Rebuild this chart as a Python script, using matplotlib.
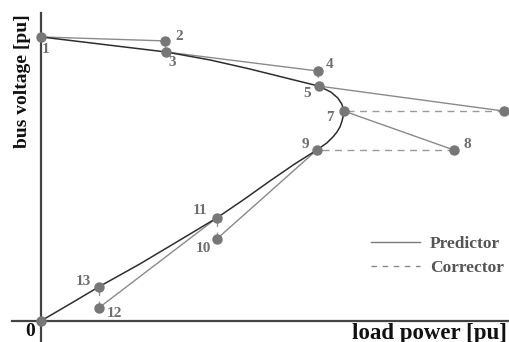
import numpy as np
import matplotlib
matplotlib.use('Agg')
import matplotlib.pyplot as plt
from matplotlib.lines import Line2D

# PV curve (load power, bus voltage)
curve_p = [0.0, 0.195, 0.413, 0.558, 0.690, 0.822, 0.917, 0.957, 0.980, 0.993, 1.0,
           0.998, 0.993, 0.987, 0.977, 0.964, 0.944, 0.911, 0.838, 0.756, 0.673,
           0.581, 0.459, 0.327, 0.191, 0.096, 0.0]
curve_v = [1.0, 0.975, 0.947, 0.919, 0.887, 0.852, 0.827, 0.806, 0.785, 0.764, 0.739,
           0.722, 0.701, 0.683, 0.665, 0.648, 0.627, 0.602, 0.553, 0.493, 0.430,
           0.363, 0.285, 0.201, 0.120, 0.060, 0.0]

# continuation steps 1..13
step_p = [0.0, 0.409, 0.413, 0.914, 0.917, 1.528, 1.0, 1.363, 0.911, 0.581, 0.581, 0.191, 0.191]
step_v = [1.0, 0.986, 0.947, 0.880, 0.827, 0.739, 0.739, 0.602, 0.602, 0.289, 0.363, 0.046, 0.120]
step_labels = ['1', '2', '3', '4', '5', '', '7', '8', '9', '10', '11', '12', '13']

# label placement (pixels from the point)
label_offsets = [(5, -13), (14, 4), (6, -11), (12, 7), (-12, -7), (0, 0), (-14, -6),
                 (13, 5), (-12, 5), (-14, -10), (-17, 7), (16, -6), (-15, 5)]

plt.rcParams['font.family'] = ['Liberation Serif', 'DejaVu Serif']
plt.rcParams['font.weight'] = 'bold'

fig = plt.figure(figsize=(5.09, 3.42), dpi=100)
ax = fig.add_axes([0, 0, 1, 1])
ax.set_xlim(-0.135, 1.545)
ax.set_ylim(-0.074, 1.130)

# axes through the origin
for side in ['top', 'right']:
    ax.spines[side].set_visible(False)
ax.spines['left'].set_position(('data', 0))
ax.spines['bottom'].set_position(('data', 0))
ax.spines['left'].set_bounds(-0.074, 1.085)
ax.spines['bottom'].set_bounds(-0.096, 1.545)
for side in ['left', 'bottom']:
    ax.spines[side].set_color('#444444')
    ax.spines[side].set_linewidth(1.6)
ax.set_xticks([])
ax.set_yticks([])

# PV curve
ax.plot(curve_p, curve_v, color='#2e2e2e', lw=1.1, zorder=2)

# predictor and corrector segments
for i in range(0, len(step_p) - 1, 2):
    ax.plot(step_p[i:i + 2], step_v[i:i + 2], color='#8a8a8a', lw=1.0, zorder=1)
    ax.plot(step_p[i + 1:i + 3], step_v[i + 1:i + 3], color='#9a9a9a', lw=1.0,
            ls=(0, (5, 4)), zorder=1)

ax.plot(step_p + [0.0], step_v + [0.0], ls='none', marker='o', ms=6.5,
        color='#777777', zorder=3)

for p, v, lab, off in zip(step_p, step_v, step_labels, label_offsets):
    if lab:
        ax.annotate(lab, (p, v), xytext=off, textcoords='offset pixels',
                    ha='center', va='center', fontsize=11, color='#6e6e6e',
                    fontweight='bold')

ax.text(30 / 509, 1 - 332 / 342, '0', transform=ax.transAxes, ha='center',
        va='center', fontsize=14, fontweight='bold', color='#111111')
ax.text(507 / 509, 1 - 333 / 342, 'load power [pu]', transform=ax.transAxes,
        ha='right', va='center', fontsize=16.5, fontweight='bold', color='#111111')
ax.text(23 / 509, 1 - 81 / 342, 'bus voltage [pu]', transform=ax.transAxes,
        ha='center', va='center', rotation=90, fontsize=14, fontweight='bold',
        color='#111111')

handles = [Line2D([], [], color='#7a7a7a', lw=1.0),
           Line2D([], [], color='#8a8a8a', lw=1.0, ls=(0, (4, 4)))]
leg = ax.legend(handles, ['Predictor', 'Corrector'], loc='upper right',
                bbox_to_anchor=(504 / 509, 1 - 236 / 342), frameon=False,
                borderaxespad=0, borderpad=0,
                handlelength=2.8, handletextpad=0.6, labelspacing=0.45,
                prop={'family': 'Liberation Serif', 'weight': 'bold', 'size': 12.5})
for t in leg.get_texts():
    t.set_color('#555555')

fig.savefig('out.png', dpi=100)
